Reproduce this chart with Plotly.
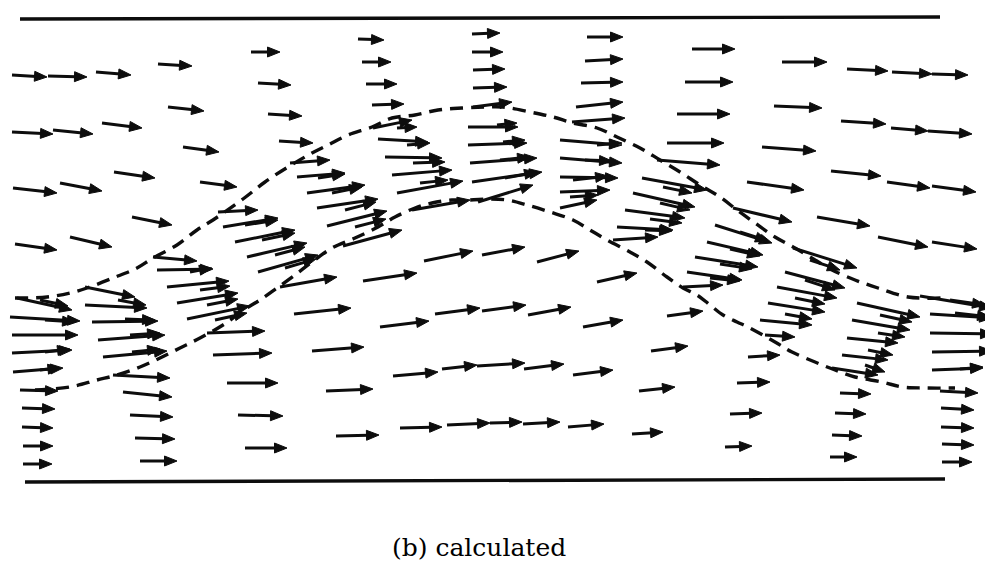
import math
import plotly.graph_objects as go

# ---- flow vectors: tail position (X, Y) and vector components (U, V) ----
# Y is measured downward from the top of the frame (same units as X)
X = [12, 12, 13, 15, 48, 53, 60, 70, 96, 102, 114, 132, 158, 168, 183, 200,
     251, 258, 268, 279, 358, 362, 366, 372, 472, 472, 473, 473, 473,
     587, 585, 581, 576, 572, 692, 685, 677, 667, 657,
     782, 774, 762, 747, 733, 847, 841, 831, 817,
     892, 932, 891, 928, 887, 932, 878, 932,
     # band between the dashed lines
     17, 10, 12, 12, 13, 40, 45, 45, 40,
     85, 85, 92, 98, 103, 118, 125, 130, 132,
     153, 157, 167, 177, 187, 190, 200, 207, 215,
     218, 223, 235, 247, 258, 280, 245, 262, 275, 285,
     290, 297, 307, 317, 327, 343, 318, 332, 345, 355,
     373, 378, 385, 392, 397, 412, 397, 407, 413, 420,
     468, 468, 470, 472, 478, 497, 503, 500, 505,
     560, 560, 560, 560, 560, 597, 573, 570, 585,
     642, 633, 625, 617, 613, 663, 660, 650, 645,
     715, 707, 695, 687, 683, 740, 730, 720, 710,
     793, 785, 777, 768, 760, 765, 810, 805, 795, 785,
     857, 852, 847, 842, 832, 880, 878, 868, 865,
     920, 930, 930, 932, 932, 955, 950, 960,
     # below the lower dashed line
     20, 22, 22, 23, 23, 113, 123, 130, 135, 140,
     207, 213, 227, 238, 245, 294, 312, 326, 336,
     363, 380, 393, 400, 424, 435, 442, 447,
     482, 482, 477, 490, 537, 528, 524, 523,
     597, 583, 573, 568, 667, 651, 639, 632,
     748, 737, 730, 725, 840, 835, 832, 830,
     940, 941, 941, 942, 942]
Y = [75, 132, 188, 244, 76, 130, 183, 237, 72, 123, 172, 217, 64, 107, 147, 182,
     52, 83, 114, 141, 39, 62, 84, 105, 34, 52, 70, 88, 107,
     37, 61, 83, 107, 122, 49, 82, 114, 143, 160,
     62, 106, 147, 182, 208, 69, 121, 171, 217,
     72, 74, 128, 131, 182, 186, 237, 242,
     298, 317, 335, 353, 372, 300, 320, 352, 370,
     287, 305, 322, 340, 357, 300, 319, 335, 352,
     257, 270, 287, 303, 319, 272, 290, 305, 320,
     212, 227, 242, 257, 272, 287, 225, 240, 255, 268,
     163, 177, 193, 208, 226, 246, 178, 193, 210, 227,
     128, 139, 157, 175, 193, 210, 128, 145, 163, 183,
     127, 145, 163, 182, 202, 125, 142, 160, 178,
     140, 158, 177, 192, 208, 145, 180, 197, 160,
     178, 193, 210, 227, 240, 187, 203, 219, 230,
     225, 242, 257, 272, 287, 232, 249, 264, 278,
     248, 272, 287, 303, 320, 335, 260, 280, 298, 314,
     303, 320, 338, 355, 368, 315, 333, 350, 365,
     296, 314, 333, 352, 370, 313, 300, 369,
     390, 408, 427, 446, 464, 375, 392, 415, 438, 461,
     333, 355, 383, 415, 448, 314, 351, 391, 436,
     281, 327, 376, 428, 261, 314, 369, 425,
     255, 311, 366, 423, 262, 315, 369, 424,
     282, 327, 375, 427, 316, 351, 391, 434,
     357, 383, 414, 447, 393, 413, 435, 457,
     391, 408, 427, 444, 462]
U = [35, 41, 44, 42, 39, 40, 42, 42, 35, 40, 41, 40, 34, 36, 36, 37,
     29, 33, 34, 34, 26, 29, 31, 32, 28, 31, 32, 34, 39,
     36, 38, 42, 47, 53, 43, 48, 53, 57, 63,
     45, 48, 54, 57, 59, 41, 45, 50, 53,
     40, 36, 37, 44, 43, 44, 50, 45,
     55, 70, 66, 60, 50, 28, 30, 25, 20,
     50, 62, 66, 67, 64, 28, 30, 30, 28,
     44, 56, 62, 61, 63, 22, 30, 31, 32,
     40, 55, 60, 60, 60, 57, 33, 33, 30, 31,
     40, 48, 58, 61, 60, 59, 27, 30, 31, 31,
     39, 50, 57, 60, 66, 58, 20, 23, 32, 28,
     50, 59, 67, 70, 55, 20, 22, 30, 32,
     62, 62, 58, 50, 37, 25, 35, 28, 27,
     65, 62, 60, 56, 45, 29, 30, 32, 27,
     57, 56, 63, 55, 40, 28, 30, 32, 30,
     64, 60, 60, 57, 52, 30, 30, 30, 30, 27,
     63, 58, 51, 46, 46, 32, 27, 25, 20,
     72, 62, 63, 60, 51, 35, 35, 23,
     38, 33, 31, 30, 29, 57, 49, 43, 40, 37,
     58, 59, 51, 45, 42, 57, 52, 47, 43,
     54, 49, 45, 42, 49, 45, 35, 43,
     43, 44, 48, 32, 42, 43, 40, 37,
     40, 40, 40, 36, 36, 37, 36, 31,
     32, 33, 32, 27, 31, 31, 30, 27,
     38, 33, 33, 32, 30]
V = [2, 2, 5, 6, 1, 4, 8, 10, 3, 5, 6, 8, 2, 4, 5, 5,
     0, 2, 2, 2, 1, 0, 0, -1, -1, 0, -1, -1, -5,
     0, -2, -1, -5, -4, 0, 0, 0, 0, 5,
     0, 2, 4, 8, 14, 2, 3, 5, 9,
     2, 1, 3, 3, 6, 6, 10, 7,
     12, 4, 0, -3, -4, 6, 2, -3, -2,
     10, 3, -1, -5, -6, 5, 1, -2, -3,
     4, -1, -6, -10, -13, -4, -4, -6, -7,
     -2, -9, -12, -14, -17, -10, -5, -7, -8, -9,
     -3, -4, -8, -9, -15, -16, -4, -6, -8, -8,
     -8, 3, 1, -5, -12, -10, -1, -2, -1, -3,
     0, -2, -5, -10, -17, -2, -2, -3, -6,
     5, 5, 1, -2, -8, -2, -4, -2, 1,
     12, 14, 8, 3, -3, 6, 7, 4, 1,
     18, 13, 10, 8, -2, 9, 7, 5, 3,
     20, 16, 11, 9, 5, 2, 10, 10, 6, 5,
     14, 10, 5, 5, 7, 7, 4, 5, 7,
     12, 4, 1, -1, -2, 4, 5, -2,
     1, 1, 1, 0, 0, 3, 5, 2, 1, 0,
     -2, -2, 0, 1, 0, -6, -4, -2, -1,
     -8, -6, -4, -1, -10, -6, -4, -2,
     -8, -6, -3, -1, -11, -8, -5, -2,
     -9, -7, -5, -3, -5, -5, -4, -2,
     -2, -1, -1, -1, 1, 1, 1, 0,
     2, 2, 1, 1, 0]

# ---- dashed boundary lines ----
UPPER_X = [15, 47, 70, 87, 113, 137, 153, 177, 197, 213, 243, 265, 288, 312, 328,
           348, 372, 392, 415, 438, 462, 485, 503, 530, 553, 573, 597, 617, 640,
           660, 680, 700, 720, 737, 755, 775, 795, 815, 832, 855, 878, 908, 942]
UPPER_Y = [298, 297, 293, 288, 278, 268, 258, 245, 230, 220, 199, 182, 167, 153, 145,
           135, 127, 118, 115, 110, 108, 107, 107, 112, 117, 123, 128, 137, 148,
           160, 172, 185, 197, 210, 223, 237, 248, 260, 270, 280, 288, 297, 298]
LOWER_X = [35, 70, 97, 117, 140, 160, 180, 200, 223, 247, 260, 277, 295, 312, 332,
           355, 378, 395, 415, 432, 452, 470, 490, 507, 527, 550, 573, 590, 607,
           630, 647, 667, 683, 697, 710, 723, 737, 748, 775, 792, 815, 835, 855,
           882, 902, 925, 955]
LOWER_Y = [390, 387, 380, 375, 367, 358, 348, 338, 325, 308, 300, 288, 275, 262, 248,
           238, 227, 217, 208, 203, 200, 200, 199, 200, 205, 212, 220, 230, 240,
           252, 262, 277, 288, 295, 305, 315, 322, 327, 342, 352, 362, 370, 377,
           382, 387, 388, 388]

# ---- channel walls ----
TOP_WALL_X = [20, 940]
TOP_WALL_Y = [19, 17]
BOTTOM_WALL_X = [25, 945]
BOTTOM_WALL_Y = [482, 479]

CAPTION = "(b) calculated"

INK = "#0d0d0d"
HEAD_LEN = 12.5
HEAD_HALF = 5.0

shaft_x, shaft_y, head_x, head_y = [], [], [], []
for x, y, u, v in zip(X, Y, U, V):
    L = math.hypot(u, v)
    dx, dy = u / L, v / L
    tx, ty = x + u, y + v
    hl = min(HEAD_LEN, 0.6 * L)
    bx, by = tx - hl * dx, ty - hl * dy
    shaft_x += [x, bx + 2 * dx, None]
    shaft_y += [y, by + 2 * dy, None]
    px, py = -dy * HEAD_HALF, dx * HEAD_HALF
    head_x += [tx, bx + px, bx - px, tx, None]
    head_y += [ty, by + py, by - py, ty, None]

fig = go.Figure()
for wx, wy in ((TOP_WALL_X, TOP_WALL_Y), (BOTTOM_WALL_X, BOTTOM_WALL_Y)):
    fig.add_trace(go.Scatter(x=wx, y=wy, mode="lines",
                             line=dict(color=INK, width=3.4), hoverinfo="skip"))
for cx, cy in ((UPPER_X, UPPER_Y), (LOWER_X, LOWER_Y)):
    fig.add_trace(go.Scatter(x=cx, y=cy, mode="lines",
                             line=dict(color=INK, width=3.4, dash="13px,8px", shape="spline"),
                             hoverinfo="skip"))
fig.add_trace(go.Scatter(x=shaft_x, y=shaft_y, mode="lines",
                         line=dict(color=INK, width=3.0), hoverinfo="skip"))
fig.add_trace(go.Scatter(x=head_x, y=head_y, mode="lines", fill="toself",
                         fillcolor=INK, line=dict(color=INK, width=1), hoverinfo="skip"))

fig.add_annotation(x=479, y=547, xref="x", yref="y", text=CAPTION, showarrow=False,
                   font=dict(family="DejaVu Serif", size=25, color="#000000"))

# The page body keeps an 8 px margin, so the figure is 8 px smaller and the
# axis ranges start at 8 so that the drawing lands on the full 993x562 frame.
PAGE_OFFSET = 8
fig.update_layout(
    width=993 - PAGE_OFFSET, height=562 - PAGE_OFFSET,
    margin=dict(l=0, r=0, t=0, b=0),
    paper_bgcolor="white", plot_bgcolor="white",
    showlegend=False,
    xaxis=dict(range=[PAGE_OFFSET, 993], visible=False, fixedrange=True),
    yaxis=dict(range=[562, PAGE_OFFSET], visible=False, fixedrange=True),
)
fig.write_html("out.html")
